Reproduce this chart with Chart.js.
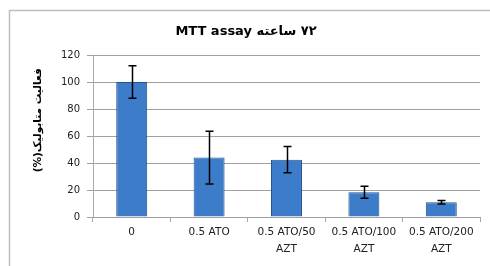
<!DOCTYPE html>
<html>
<head>
<meta charset="utf-8">
<script src="https://cdn.jsdelivr.net/npm/chart.js@4"></script>
<style>
html,body{margin:0;padding:0;background:#fff;}
#wrap{position:relative;width:490px;height:266px;}
</style>
</head>
<body>
<div id="wrap"><canvas id="c" width="490" height="266"></canvas></div>
<script>
const categories = [["0"], ["0.5 ATO"], ["0.5 ATO/50", "AZT"], ["0.5 ATO/100", "AZT"], ["0.5 ATO/200", "AZT"]];
const values = [100, 44, 42.5, 18.3, 10.9];
const errors = [12, 19.5, 9.8, 4.4, 1.3];
const yTicks = [0, 20, 40, 60, 80, 100, 120];
const chartTitle = "MTT assay \u0667\u0662 ساعته";
const yTitle = "\u2003\u2003\u2003(%)فعالیت متابولیک";

const borderPlugin = {
  id: 'outerBorder',
  beforeDraw(chart) {
    const ctx = chart.ctx;
    ctx.save();
    ctx.fillStyle = '#fff';
    ctx.fillRect(0, 0, chart.width, chart.height);
    ctx.strokeStyle = '#bdbdbd';
    ctx.lineWidth = 1.5;
    ctx.strokeRect(9.5, 10.5, 600, 400);
    ctx.restore();
  }
};

const errorBarPlugin = {
  id: 'errorBars',
  afterDatasetsDraw(chart) {
    const ctx = chart.ctx;
    const meta = chart.getDatasetMeta(0);
    const ys = chart.scales.y;
    ctx.save();
    ctx.strokeStyle = '#000';
    ctx.lineWidth = 1.5;
    meta.data.forEach((bar, i) => {
      const x = Math.round(bar.x) + 0.5;
      const top = ys.getPixelForValue(values[i] + errors[i]);
      const bot = ys.getPixelForValue(values[i] - errors[i]);
      ctx.beginPath();
      ctx.moveTo(x, top); ctx.lineTo(x, bot);
      ctx.moveTo(x - 4, top); ctx.lineTo(x + 4, top);
      ctx.moveTo(x - 4, bot); ctx.lineTo(x + 4, bot);
      ctx.stroke();
    });
    ctx.restore();
  }
};

function barFill(context) {
  const chart = context.chart;
  const el = context.element;
  if (!el || el.x === undefined || !chart.chartArea) return '#3d7cc9';
  const w = el.width || 31;
  const x0 = el.x - w / 2, x1 = el.x + w / 2;
  if (!isFinite(x0) || !isFinite(x1)) return '#3d7cc9';
  const g = chart.ctx.createLinearGradient(x0, 0, x1, 0);
  g.addColorStop(0, '#2a5c9e');
  g.addColorStop(0.12, '#4a8bd9');
  g.addColorStop(0.5, '#3f80d0');
  g.addColorStop(0.88, '#3a77c6');
  g.addColorStop(1, '#26528c');
  return g;
}

new Chart(document.getElementById('c'), {
  type: 'bar',
  data: {
    labels: categories,
    datasets: [{
      data: values,
      backgroundColor: barFill,
      borderColor: '#24528e',
      borderWidth: 1,
      barPercentage: 0.4,
      categoryPercentage: 1.0
    }]
  },
  options: {
    responsive: false,
    animation: false,
    devicePixelRatio: 1,
    layout: { padding: { left: 12, right: 10, top: 0, bottom: 0 } },
    plugins: {
      legend: { display: false },
      tooltip: { enabled: false },
      title: {
        display: true,
        text: chartTitle,
        color: '#000',
        font: { family: 'DejaVu Sans', size: 13, weight: 'bold', lineHeight: 1.2 },
        padding: { top: 24, bottom: 15.4 }
      }
    },
    scales: {
      x: {
        grid: { drawOnChartArea: false, drawTicks: true, tickLength: 5, color: '#a8a8a8', offset: true },
        border: { display: true, color: '#a0a0a0' },
        ticks: {
          color: '#222',
          font: { family: 'DejaVu Sans', size: 10.5, lineHeight: 1.6 },
          padding: 2,
          maxRotation: 0,
          autoSkip: false
        },
        afterFit(scale) { scale.height = 49; }
      },
      y: {
        min: 0, max: 120,
        afterBuildTicks(scale) { scale.ticks = yTicks.map(v => ({ value: v })); },
        grid: { color: '#a0a0a0', drawTicks: true, tickLength: 6 },
        border: { display: true, color: '#a8a8a8' },
        ticks: {
          color: '#222',
          font: { family: 'DejaVu Sans', size: 10 },
          padding: 7
        },
        title: {
          display: true,
          text: yTitle,
          color: '#000',
          font: { family: 'DejaVu Sans', size: 10.5, weight: 'bold', lineHeight: 1.2 },
          padding: { top: 20, bottom: 0 }
        },
        afterFit(scale) { scale.width = 81; }
      }
    }
  },
  plugins: [borderPlugin, errorBarPlugin]
});
</script>
</body>
</html>
